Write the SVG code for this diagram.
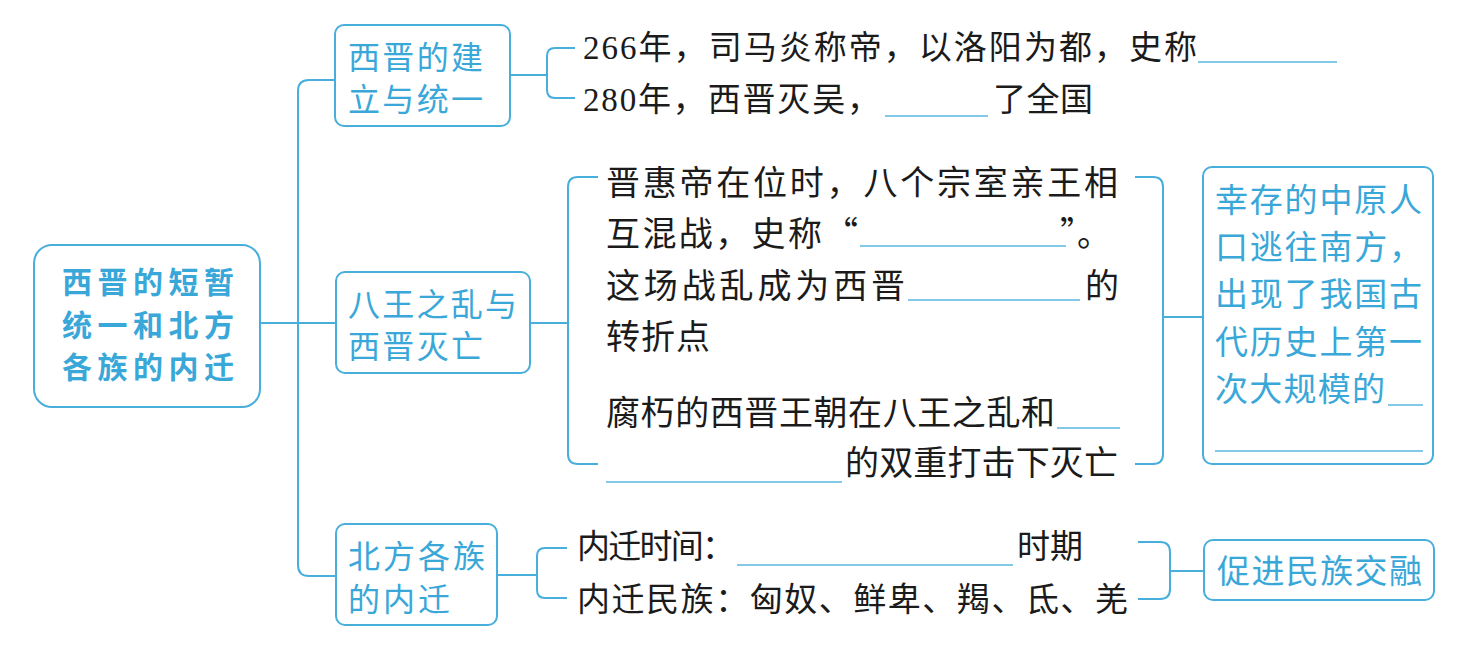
<svg xmlns="http://www.w3.org/2000/svg" width="1469" height="660" viewBox="0 0 1469 660">
<style>
.box{fill:#fff;stroke:#48aedb;stroke-width:2}
.ln{fill:none;stroke:#48aedb;stroke-width:2}
.bl{fill:none;stroke:#5ab6df;stroke-width:1.6}
.bt{font-family:"Noto Sans CJK SC",sans-serif;fill:#3aa7d9}
.k{font-family:"Noto Sans CJK SC",sans-serif;fill:#1b1b1b}
.d{font-family:"Liberation Serif",serif}
</style>
<rect width="1469" height="660" fill="#fff"/>
<g id="connectors">
<path class="ln" d="M260 323 H336"/>
<path class="ln" d="M336 80 H309 Q298 80 298 91 V565 Q298 576 309 576 H336"/>
<path class="ln" d="M510 75 H547 M575 48 H555 Q547 48 547 56 V90 Q547 98 555 98 H575"/>
<path class="ln" d="M530 323 H568 M598 177 H578 Q568 177 568 187 V454 Q568 464 578 464 H598"/>
<path class="ln" d="M1135 177 H1153 Q1163 177 1163 187 V454 Q1163 464 1153 464 H1135 M1163 317 H1203"/>
<path class="ln" d="M497 575 H537 M567 548 H545 Q537 548 537 556 V590 Q537 598 545 598 H567"/>
<path class="ln" d="M1138 542 H1160 Q1170 542 1170 552 V589 Q1170 599 1160 599 H1138 M1170 571 H1204"/>
</g>
<g id="root">
<rect class="box" x="34" y="245" width="226" height="162" rx="18"/>
<text class="bt" font-size="30" font-weight="bold"><tspan x="62" y="293" textLength="172">西晋的短暂</tspan><tspan x="62" y="336" textLength="172">统一和北方</tspan><tspan x="62" y="378" textLength="172">各族的内迁</tspan></text>
</g>
<g id="n1">
<rect class="box" x="335" y="25" width="175" height="101" rx="9"/>
<text class="bt" font-size="32"><tspan x="348" y="69" textLength="135">西晋的建</tspan><tspan x="348" y="111" textLength="135">立与统一</tspan></text>
</g>
<g id="n1-items">
<text class="k" font-size="33" x="583" y="59" textLength="614"><tspan class="d">266</tspan>年，司马炎称帝，以洛阳为都，史称</text>
<line class="bl" x1="1198" y1="62" x2="1337" y2="62"/>
<text class="k" font-size="33" x="583" y="111" textLength="297"><tspan class="d">280</tspan>年，西晋灭吴，</text>
<line class="bl" x1="885" y1="116" x2="988" y2="116"/>
<text class="k" font-size="33" x="993" y="111" textLength="100">了全国</text>
</g>
<g id="n2">
<rect class="box" x="336" y="272" width="194" height="101" rx="9"/>
<text class="bt" font-size="32"><tspan x="348" y="316" textLength="169">八王之乱与</tspan><tspan x="348" y="358" textLength="135">西晋灭亡</tspan></text>
</g>
<g id="n2-items">
<text class="k" font-size="34" x="606" y="195" textLength="512">晋惠帝在位时，八个宗室亲王相</text>
<text class="k" font-size="34" x="606" y="246" textLength="216">互混战，史称</text>
<text class="k" font-size="34" x="824" y="246">“</text>
<line class="bl" x1="860" y1="246" x2="1066" y2="246"/>
<text class="k" font-size="34" x="1060" y="246">”。</text>
<text class="k" font-size="34" x="606" y="298" textLength="299">这场战乱成为西晋</text>
<line class="bl" x1="908" y1="300" x2="1080" y2="300"/>
<text class="k" font-size="34" x="1085" y="298">的</text>
<text class="k" font-size="34" x="606" y="349" textLength="104">转折点</text>
<text class="k" font-size="34" x="606" y="425" textLength="449">腐朽的西晋王朝在八王之乱和</text>
<line class="bl" x1="1057" y1="428" x2="1120" y2="428"/>
<line class="bl" x1="606" y1="482" x2="842" y2="482"/>
<text class="k" font-size="34" x="845" y="475" textLength="273">的双重打击下灭亡</text>
</g>
<g id="n2-result">
<rect class="box" x="1203" y="167" width="230" height="297" rx="9"/>
<text class="bt" font-size="33"><tspan x="1215" y="212" textLength="207">幸存的中原人</tspan><tspan x="1215" y="259" textLength="207">口逃往南方，</tspan><tspan x="1215" y="306" textLength="207">出现了我国古</tspan><tspan x="1215" y="354" textLength="207">代历史上第一</tspan><tspan x="1215" y="401" textLength="170">次大规模的</tspan></text>
<line class="bl" x1="1388" y1="405" x2="1423" y2="405"/>
<line class="bl" x1="1215" y1="451" x2="1423" y2="451"/>
</g>
<g id="n3">
<rect class="box" x="336" y="524" width="161" height="101" rx="9"/>
<text class="bt" font-size="32"><tspan x="348" y="568" textLength="137">北方各族</tspan><tspan x="348" y="611" textLength="102">的内迁</tspan></text>
</g>
<g id="n3-items">
<text class="k" font-size="33" x="577" y="558" textLength="158">内迁时间：</text>
<line class="bl" x1="737" y1="565" x2="1013" y2="565"/>
<text class="k" font-size="33" x="1017" y="558" textLength="66">时期</text>
<text class="k" font-size="33" x="577" y="611" textLength="551">内迁民族：匈奴、鲜卑、羯、氐、羌</text>
</g>
<g id="n3-result">
<rect class="box" x="1204" y="540" width="230" height="60" rx="9"/>
<text class="bt" font-size="33" x="1217" y="583" textLength="205">促进民族交融</text>
</g>
</svg>
